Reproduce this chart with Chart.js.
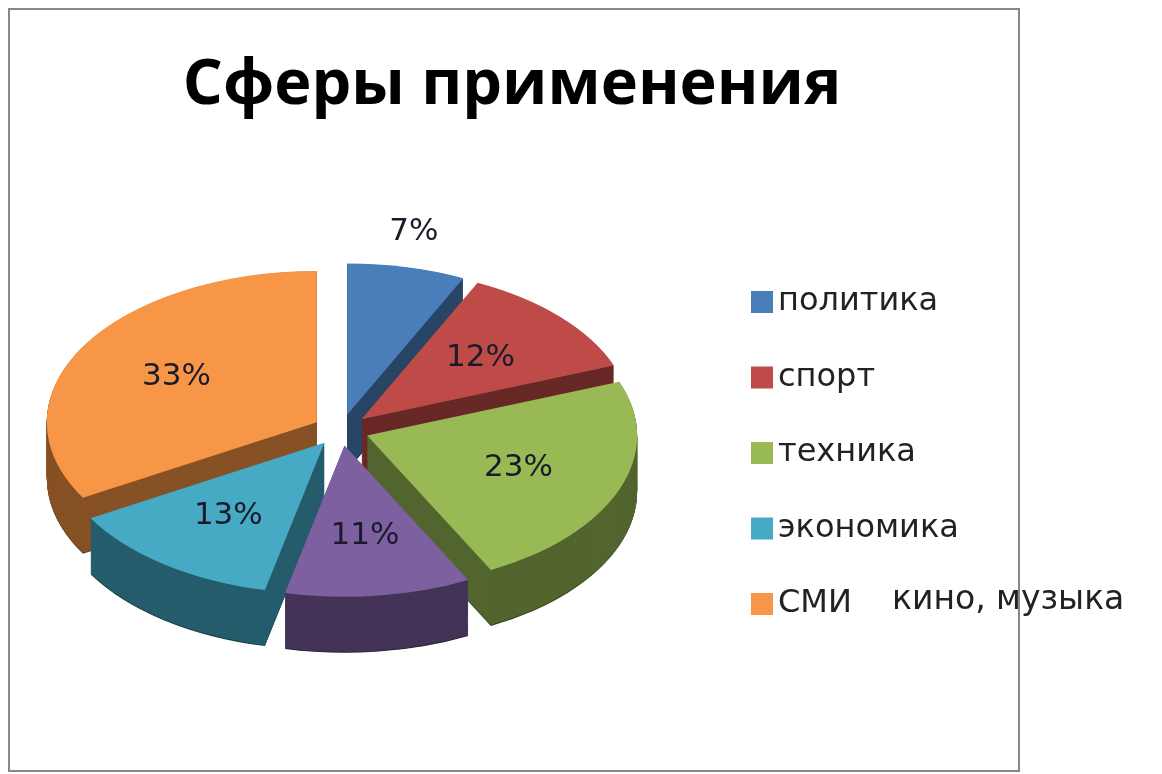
<!DOCTYPE html>
<html><head><meta charset="utf-8">
<script src="https://cdn.jsdelivr.net/npm/chart.js@4"></script>
<style>
body{margin:0;background:#fff;width:1162px;height:774px;position:relative;overflow:hidden;font-family:'Open Sans',sans-serif}
#box{position:absolute;left:8px;top:8px;width:1008px;height:760px;border:2px solid #888}
#extra{position:absolute;left:892px;top:578px;font-size:33px;color:#222;font-family:'DejaVu Sans',sans-serif}
</style></head><body>
<div id="box"><canvas id="c" width="1008" height="760"></canvas></div>
<div id="extra">кино, музыка</div>
<script>
const labels = ['политика', 'спорт', 'техника', 'кино, музыка', 'экономика', 'СМИ'];
const values = [7, 12, 23, 11, 13, 33];
const colors = ['#4a7ebb', '#be4b48', '#98b954', '#7d60a0', '#46aac5', '#f79646'];
const legendOrder = [0, 1, 2, 4, 5];
const titleText = 'Сферы применения';

const SQUASH = 0.56, DEPTH = 56, TARGET_Y = 420, EXPLODE = 28;

function shade(hex, f) {
  const n = parseInt(hex.slice(1), 16);
  const r = (n >> 16) * f, g = ((n >> 8) & 255) * f, b = (n & 255) * f;
  return `rgb(${r|0},${g|0},${b|0})`;
}

function slicePath(ctx, a, dy) {
  const mid = (a.startAngle + a.endAngle) / 2;
  const ox = Math.cos(mid) * EXPLODE, oy = Math.sin(mid) * EXPLODE;
  ctx.beginPath();
  ctx.moveTo(a.x + ox, a.y + oy + dy);
  ctx.arc(a.x + ox, a.y + oy + dy, a.outerRadius, a.startAngle, a.endAngle);
  ctx.closePath();
}

const pie3d = {
  id: 'pie3d',
  beforeDatasetsDraw(chart) {
    const ctx = chart.ctx, arcs = chart.getDatasetMeta(0).data;
    const cx = arcs[0].x, cy = arcs[0].y;
    ctx.save();
    ctx.translate(cx, TARGET_Y);
    ctx.scale(1, SQUASH);
    ctx.translate(-cx, -cy);
    for (let d = DEPTH / SQUASH; d > 0; d -= 1) {
      arcs.forEach((a, i) => {
        ctx.fillStyle = shade(colors[i], d > DEPTH / SQUASH - 2 ? 0.4 : 0.55);
        slicePath(ctx, a, d); ctx.fill();
      });
    }
    arcs.forEach((a, i) => {
      ctx.fillStyle = colors[i];
      slicePath(ctx, a, 0); ctx.fill();
    });
    ctx.restore();
    return false;
  },
  afterDraw(chart) {
    const ctx = chart.ctx, arcs = chart.getDatasetMeta(0).data;
    const cx = arcs[0].x;
    ctx.save();
    ctx.fillStyle = '#000';
    ctx.font = 'bold 63px "Open Sans", sans-serif';
    ctx.textAlign = 'center'; ctx.textBaseline = 'middle';
    ctx.fillText(titleText, 502, 76);

    ctx.font = '31px "DejaVu Sans", sans-serif';
    ctx.fillStyle = '#1a1a2a';
    const total = values.reduce((s, v) => s + v, 0);
    arcs.forEach((a, i) => {
      const mid = (a.startAngle + a.endAngle) / 2;
      const r = a.outerRadius * (i === 0 ? 1.12 : 0.6) + EXPLODE;
      const x = cx + Math.cos(mid) * r;
      const y = TARGET_Y + Math.sin(mid) * r * SQUASH - (i === 0 ? 18 : 0);
      ctx.fillText(Math.round(values[i] / total * 100) + '%', x, y);
    });
    ctx.font = '32px "DejaVu Sans", sans-serif';
    ctx.textAlign = 'left';
    legendOrder.forEach((i, k) => {
      const y = 292 + k * 75.5;
      ctx.fillStyle = colors[i];
      ctx.fillRect(741, y - 11, 22, 22);
      ctx.fillStyle = '#222';
      ctx.fillText(labels[i], 768, y);
    });
    ctx.restore();
  }
};

new Chart(document.getElementById('c'), {
  type: 'pie',
  data: { labels, datasets: [{ data: values, backgroundColor: colors, borderWidth: 0 }] },
  options: {
    responsive: false, animation: false,
    rotation: 0,
    layout: { padding: { left: 61, right: 407, top: 130, bottom: 90 } },
    plugins: {
      legend: { display: false },
      tooltip: { enabled: false },
      title: { display: false }
    }
  },
  plugins: [pie3d]
});
</script>
</body></html>
